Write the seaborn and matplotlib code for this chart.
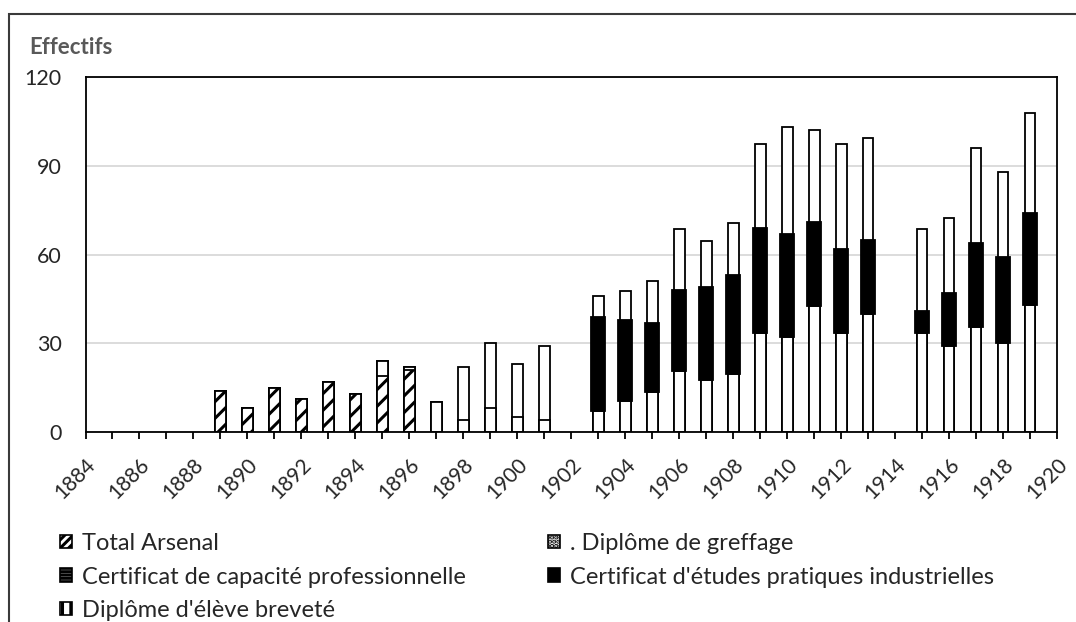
import numpy as np
import pandas as pd
import matplotlib
matplotlib.use("Agg")
import matplotlib.pyplot as plt
from matplotlib.patches import Patch, Rectangle
import seaborn as sns

# Data (effectifs per year)
years = list(range(1889, 1920))
arsenal = [14, 8, 15, 11, 17, 13, 19, 21] + [0] * 23
bas = [0, 0, 0, 0, 0, 0, 5, 1, 10, 4, 8, 5, 4, 0, 7, 10.5, 13.5, 20.5, 17.5, 19.5,
       33.5, 32, 42.5, 33.5, 40, 0, 33.5, 29, 35.5, 30, 43]
cepi = [0] * 14 + [32, 27.5, 23.5, 27.5, 31.5, 33.5, 35.5, 35, 28.5, 28.5, 25, 0,
                   7.5, 18, 28.5, 29, 31]
haut = [0] * 9 + [18, 22, 18, 25, 0, 7, 9.5, 14, 20.5, 15.5, 17.5, 28.5, 36, 31,
                  35.5, 34.5, 0, 27.5, 25.5, 32, 29, 34]

legend_labels = ["Total Arsenal",
                 "Certificat de capacité professionnelle",
                 "Diplôme d'élève breveté",
                 ". Diplôme de greffage",
                 "Certificat d'études pratiques industrielles"]

df = pd.DataFrame({"annee": years, "arsenal": arsenal, "bas": bas,
                   "cepi": cepi, "haut": haut})
df["cumul_bas"] = df["arsenal"] + df["bas"]
df["total"] = df["cumul_bas"] + df["cepi"] + df["haut"]

sns.set_theme(style="white")
plt.rcParams["font.family"] = ["Lato", "DejaVu Sans"]
plt.rcParams["hatch.linewidth"] = 2.2

W, H = 1076, 622
fig = plt.figure(figsize=(W / 100, H / 100), dpi=100)
ax = fig.add_axes([85.5 / W, 1 - 432 / H, (1057 - 85.5) / W, (432 - 77) / H])

lw = 1.3
bw = 0.4

# full white columns
sub = df[df["total"] > 0]
sns.barplot(data=sub, x="annee", y="total", native_scale=True, width=bw,
            color="white", saturation=1, edgecolor="black", linewidth=lw, ax=ax)
# lower segment
sub = df[df["cumul_bas"] > 0]
sns.barplot(data=sub, x="annee", y="cumul_bas", native_scale=True, width=bw,
            color="white", saturation=1, edgecolor="black", linewidth=lw, ax=ax)
# Total Arsenal (hatched)
sub = df[df["arsenal"] > 0]
sns.barplot(data=sub, x="annee", y="arsenal", native_scale=True, width=bw,
            color="white", saturation=1, edgecolor="black", linewidth=lw,
            hatch="//", ax=ax)
# CEPI, floating black bars, a bit wider
sub = df[df["cepi"] > 0]
ax.bar(sub["annee"], sub["cepi"], bottom=sub["cumul_bas"], width=0.5,
       color="black", edgecolor="black", linewidth=lw, zorder=3)

ax.set_xlim(1884, 1920)
ax.set_ylim(0, 120)
ax.set_yticks([0, 30, 60, 90, 120])
ax.set_xticks(range(1884, 1921, 2))
ax.set_xticks(range(1884, 1921), minor=True)
ax.set_xticklabels([str(y) for y in range(1884, 1921, 2)], rotation=45,
                   ha="right", rotation_mode="anchor", fontsize=15)
ax.tick_params(axis="y", length=0, pad=17, labelsize=15.5)
ax.tick_params(axis="x", which="both", direction="out", length=5, width=1.3,
               color="black", bottom=True, pad=11)
ax.set_xlabel("")
ax.set_ylabel("")
ax.yaxis.grid(True, color="#d9d9d9", linewidth=1.3, zorder=0)
ax.set_axisbelow(True)
for s in ax.spines.values():
    s.set_color("black")
    s.set_linewidth(1.3)

fig.text(29 / W, 1 - 47 / H, "Effectifs", fontsize=16, fontweight="bold",
         color="#595959", va="center", ha="left")

# outer frame of the chart (right and bottom edges fall outside the image)
fig.patches.append(Rectangle((8.5 / W, -0.1), 1.2, 1.1 - 14 / H,
                             transform=fig.transFigure, fill=False,
                             edgecolor="#3a3a3a", linewidth=1.5))

hatches = ["////", "-----", "||", "....", None]
colors = ["white", "white", "white", "white", "black"]
handles = [Patch(facecolor=c, edgecolor="black", hatch=h, linewidth=1.2)
           for c, h in zip(colors, hatches)]

leg_kw = dict(frameon=False, fontsize=17, handlelength=0.5, handleheight=0.5,
              handletextpad=0.45, labelspacing=0.53, borderaxespad=0, borderpad=0)
fig.legend(handles[:3], legend_labels[:3], loc="upper left",
           bbox_to_anchor=(60 / W, 1 - 533 / H), **leg_kw)
fig.legend(handles[3:], legend_labels[3:], loc="upper left",
           bbox_to_anchor=(548 / W, 1 - 533 / H), **leg_kw)

fig.savefig("out.png", dpi=100)
